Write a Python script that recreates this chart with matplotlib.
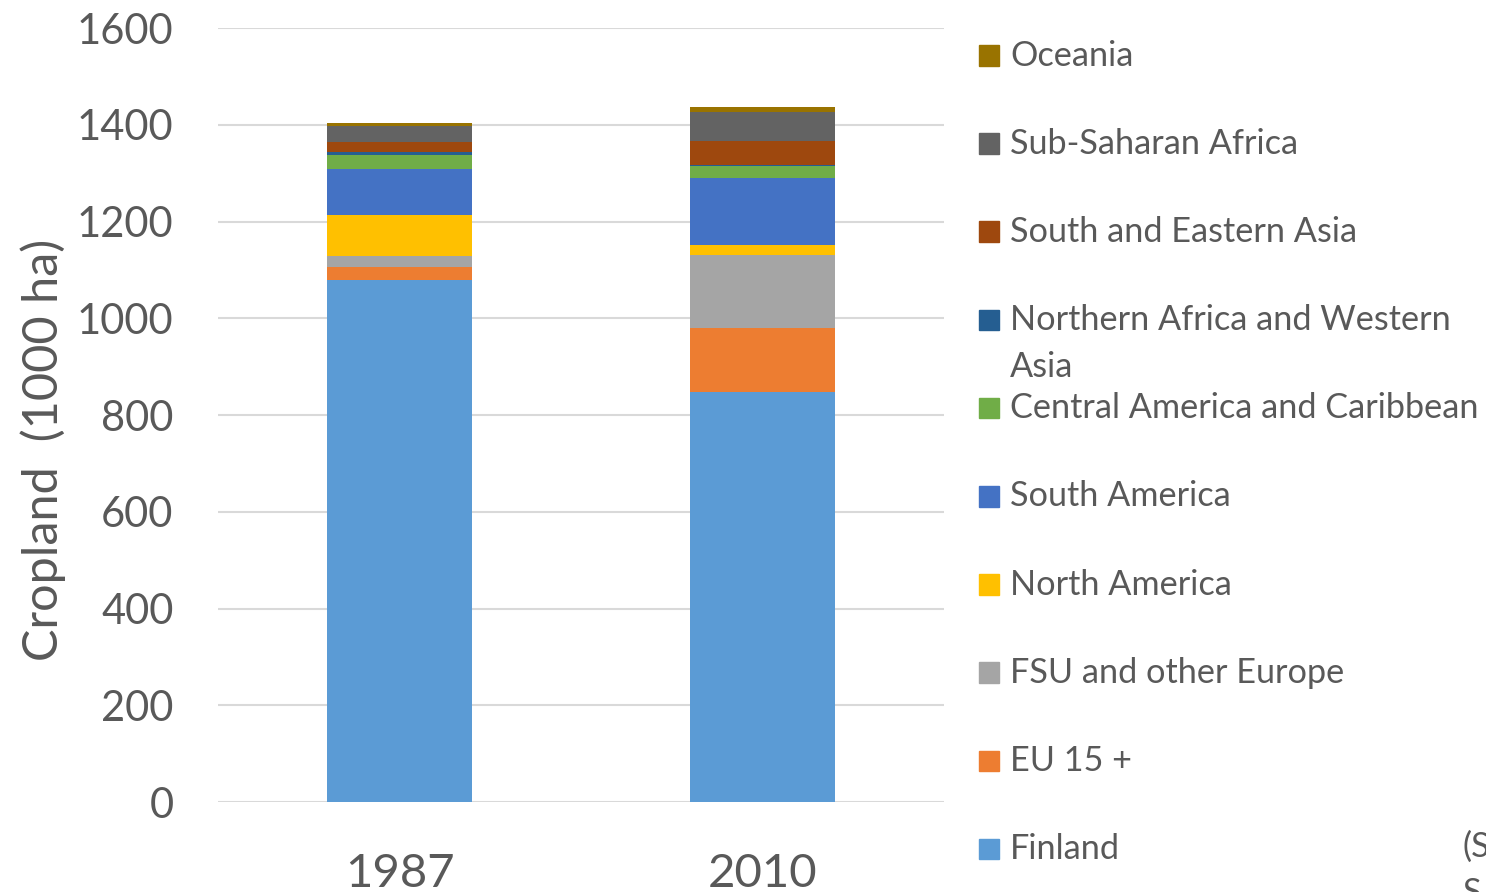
import numpy as np
import matplotlib
matplotlib.use("Agg")
import matplotlib.pyplot as plt
from matplotlib.patches import Rectangle

# data
# ------------------------------------------------------------------------------------------------------------------
years = ['1987', '2010']
regions = ['Finland', 'EU 15 +', 'FSU and other Europe', 'North America', 'South America',
           'Central America and Caribbean', 'Northern Africa and Western\nAsia',
           'South and Eastern Asia', 'Sub-Saharan Africa', 'Oceania']
finland = [1079, 847]
eu15 = [26, 132]
fsu = [23, 152]
north_america = [85, 20]
south_america = [95, 138]
central_america = [29, 25]
n_africa_w_asia = [6, 3.5]
se_asia = [21, 48]
ss_africa = [34, 61]
oceania = [5, 10]
series = [finland, eu15, fsu, north_america, south_america, central_america,
          n_africa_w_asia, se_asia, ss_africa, oceania]
colors = ['#5B9BD5', '#ED7D31', '#A5A5A5', '#FFC000', '#4472C4',
          '#70AD47', '#255E91', '#9E480E', '#636363', '#997300']
yticks = [0, 200, 400, 600, 800, 1000, 1200, 1400, 1600]

# plot
# ------------------------------------------------------------------------------------------------------------------
plt.rcParams['font.family'] = ['Lato', 'DejaVu Sans']
txt = '#595959'
W, H = 1486, 892

fig = plt.figure(figsize=(W / 100, H / 100), dpi=100)
ax = fig.add_axes([218 / W, 1 - 802 / H, (944 - 218) / W, (802 - 28) / H])

x = np.arange(len(years))
bottom = np.zeros(len(years))
for vals, c in zip(series, colors):
    ax.bar(x, vals, 0.4, bottom=bottom, color=c, zorder=3)
    bottom += np.array(vals)

ax.set_xlim(-0.5, 1.5)
ax.set_ylim(0, 1600)
ax.set_yticks(yticks)
ax.set_xticks(x)
ax.set_xticklabels(years, fontsize=34, color=txt)
ax.tick_params(axis='y', labelsize=30, labelcolor=txt, length=0, pad=32)
ax.tick_params(axis='x', length=0, pad=37)
ax.grid(axis='y', color='#D9D9D9', linewidth=1.5, zorder=0)
for s in ax.spines.values():
    s.set_visible(False)
ax.set_ylabel('Cropland  (1000 ha)', fontsize=35, color=txt)
ax.yaxis.set_label_coords(-0.209, 0.455)

# legend, top to bottom
for i in range(len(regions)):
    k = len(regions) - 1 - i
    base = 65.5 + 88.2 * i
    fig.patches.append(Rectangle((979 / W, 1 - base / H), 20 / W, 20.5 / H,
                                 transform=fig.transFigure, color=colors[k]))
    for j, line in enumerate(regions[k].split('\n')):
        fig.text(1010 / W, 1 - (base + 46.7 * j) / H, line, fontsize=24.7, color=txt,
                 va='baseline', ha='left')

fig.text(1463 / W, 1 - 857 / H, '(S', fontsize=24.7, color=txt, va='baseline')
fig.text(1463 / W, 1 - 903 / H, 'S', fontsize=24.7, color=txt, va='baseline')

fig.savefig('out.png', dpi=100)
